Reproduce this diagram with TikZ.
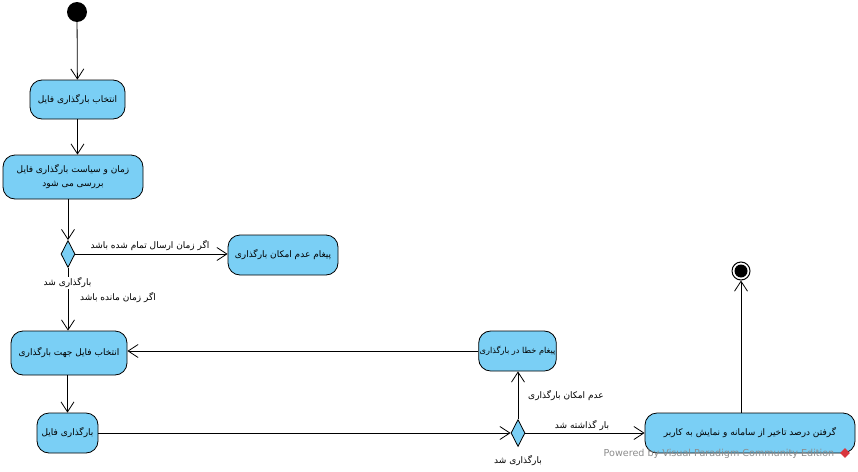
\documentclass[tikz,border=0pt]{standalone}
\usepackage{fontspec}
\setmainfont{DejaVu Sans}
\newfontfamily\farsifont[Script=Arabic]{DejaVu Sans}
\TeXXeTstate=1
\usetikzlibrary{arrows.meta, shapes.geometric}
\definecolor{vpblue}{HTML}{7ACFF5}
\definecolor{vplogo}{HTML}{D9363E}
\newcommand{\fatxt}[1]{\beginR #1\endR}

\begin{document}
\begin{tikzpicture}[
  x=1pt, y=-1pt,
  action/.style={draw=black, fill=vpblue, rounded corners=12pt, line width=0.8pt,
                 font=\farsifont\fontsize{9}{14}\selectfont, align=center, inner sep=1pt},
  decision/.style={diamond, draw=black, fill=vpblue, line width=0.8pt,
                   minimum width=14pt, minimum height=27pt, inner sep=0pt},
  flow/.style={-{Straight Barb[length=10pt,width=13pt]}, line width=0.8pt},
  guard/.style={font=\farsifont\fontsize{9}{12}\selectfont, inner sep=1pt},
]
\useasboundingbox (0,0) rectangle (858,471);

% start and end
\node[circle, fill=black, minimum size=20pt, inner sep=0pt] (start) at (77,12) {};
\node[circle, draw=black, fill=white, line width=1pt, minimum size=18pt, inner sep=0pt] (finish) at (741,271) {};
\fill[black] (finish) circle (6.5pt);

% actions
\node[action, minimum width=95pt, minimum height=39pt] (select) at (77.5,99.5) {\fatxt{انتخاب بارگذاری فایل}};
\node[action, minimum width=140pt, minimum height=44pt] (check) at (73,177)
  {\fatxt{زمان و سیاست بارگذاری فایل}\\\fatxt{بررسی می شود}};
\node[decision] (d1) at (68,254) {};
\node[action, minimum width=110pt, minimum height=40pt] (nomsg) at (283,255) {\fatxt{پیغام عدم امکان بارگذاری}};
\node[action, minimum width=116pt, minimum height=44pt] (pick) at (69,353) {\fatxt{انتخاب فایل جهت بارگذاری}};
\node[action, minimum width=61pt, minimum height=40pt] (upload) at (67.5,433) {\fatxt{بارگذاری فایل}};
\node[decision] (d2) at (518,433) {};
\node[action, minimum width=77pt, minimum height=40pt, font=\farsifont\fontsize{8.2}{12}\selectfont] (errmsg) at (517.5,351)
  {\fatxt{پیغام خطا در بارگذاری}};
\node[action, minimum width=210pt, minimum height=40pt] (report) at (750,433)
  {\fatxt{گرفتن درصد تاخیر از سامانه و نمایش به کاربر}};

% flows
\draw[flow] (start) -- (select);
\draw[flow] (select.south) -- (select.south |- check.north);
\draw[flow] (d1 |- check.south) -- (d1.north);
\draw[flow] (d1.east) -- (d1.east -| nomsg.west);
\draw[flow] (d1.south) -- (d1.south |- pick.north);
\draw[flow] (upload |- pick.south) -- (upload.north);
\draw[flow] (upload.east) -- (d2.west);
\draw[flow] (d2.north) -- (d2.north |- errmsg.south);
\draw[flow] (errmsg.west) -- (errmsg.west -| pick.east);
\draw[flow] (d2.east) -- (report.west);
\draw[flow] (finish |- report.north) -- (finish.south);

% guards
\node[guard] (gtimeout) at (150,246) {\fatxt{اگر زمان ارسال تمام شده باشد}};
\node[guard, fill=white] (gdone1) at (67.5,283) {\fatxt{بارگذاری شد}};
\node[guard] (gleft) at (118,298) {\fatxt{اگر زمان مانده باشد}};
\node[guard] (gfail) at (566,396) {\fatxt{عدم امکان بارگذاری}};
\node[guard] (gput) at (582,426) {\fatxt{بار گذاشته شد}};
\node[guard] (gdone2) at (518,461) {\fatxt{بارگذاری شد}};

% watermark
\node[text=black!45, font=\fontsize{9.6}{12}\selectfont, inner sep=0pt] (mark) at (719,454)
  {Powered by Visual Paradigm Community Edition};
\node[diamond, fill=vplogo, minimum size=10pt, inner sep=0pt] (logo) at (845,453) {};
\end{tikzpicture}
\end{document}
